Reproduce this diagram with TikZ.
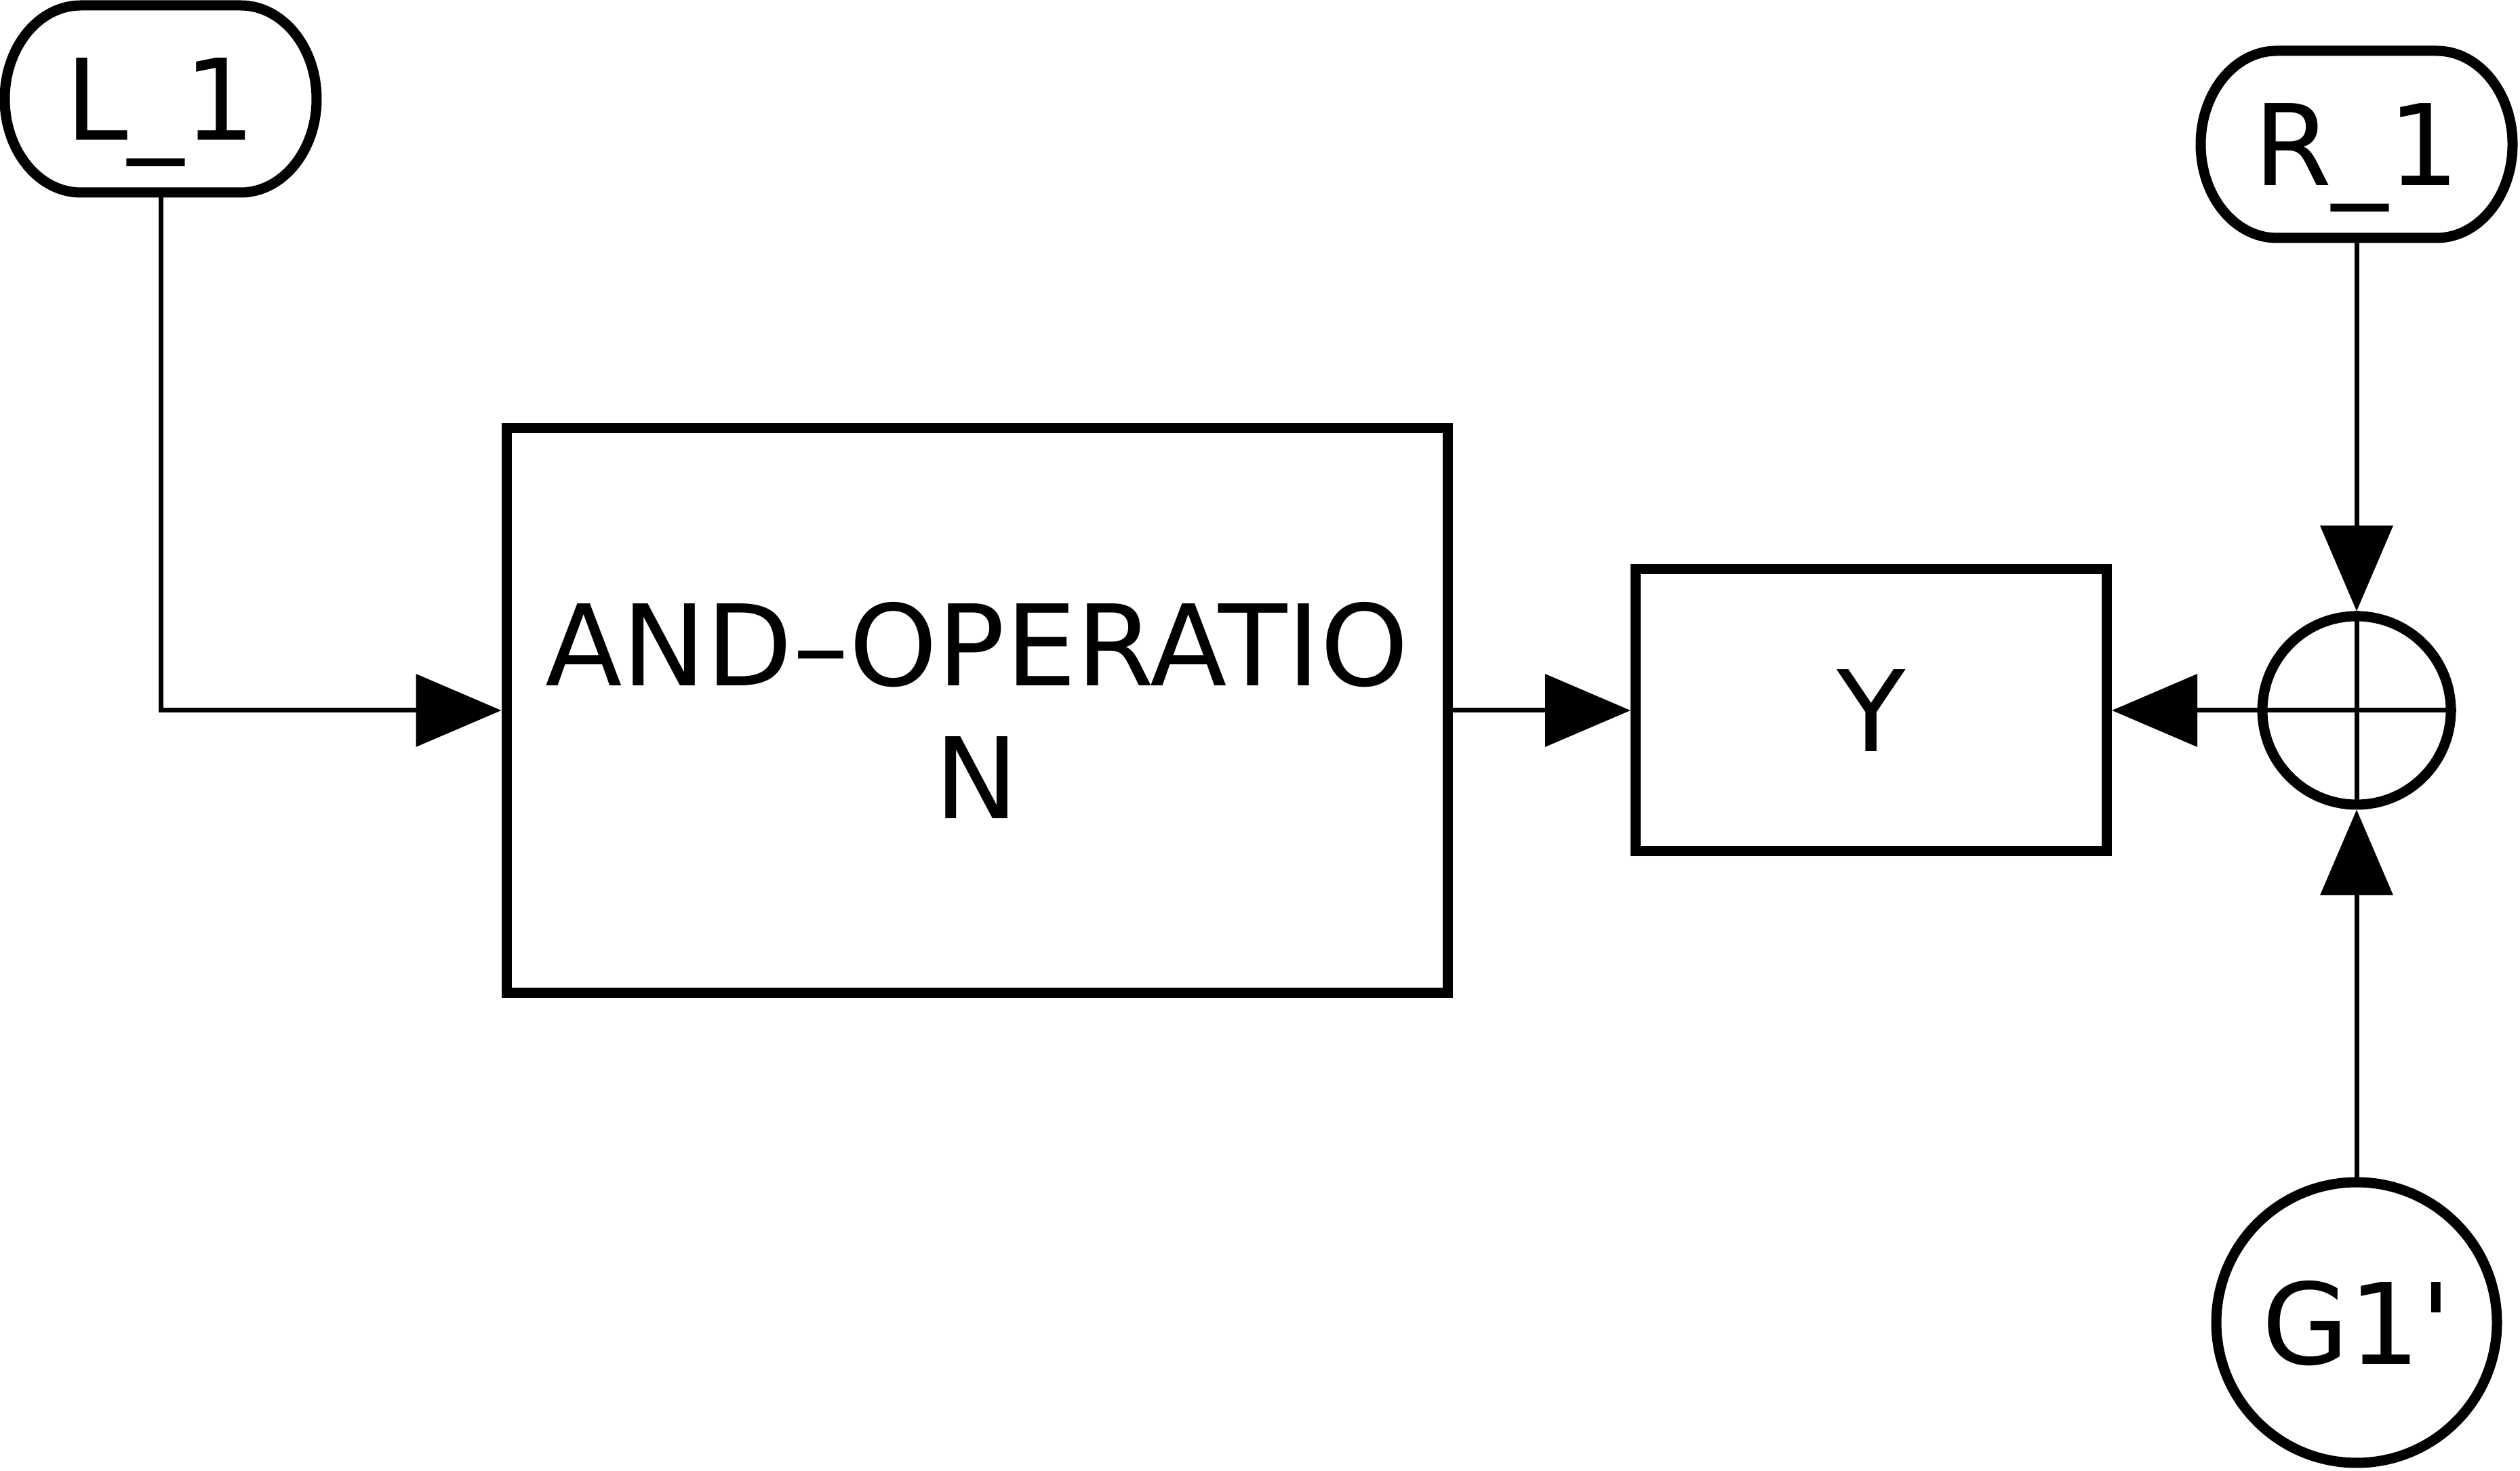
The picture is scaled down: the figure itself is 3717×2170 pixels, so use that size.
\documentclass[tikz,border=0pt]{standalone}
\usepackage{fontspec}
\setmainfont{DejaVu Sans}
\usepackage{tikz}
\usetikzlibrary{arrows.meta}

\begin{document}
\begin{tikzpicture}[x=0.1mm, y=-0.1mm,
        every node/.style={font=\fontsize{47.2pt}{56pt}\selectfont, inner sep=0pt, text depth=0pt},
        block/.style={draw, line width=1.5mm},
        terminal/.style={outer sep=0pt, minimum width=46mm, minimum height=27.6mm},
        wire/.style={line width=0.7mm},
        flow/.style={wire, -{Triangle[length=12.6mm, width=10.6mm]}}]
        \useasboundingbox (0, 0) rectangle (3717, 2170);
        % inputs
        \node[terminal] (L1) at (237, 146) {L\_1};
        \node[terminal] (R1) at (3476, 213) {R\_1};
        \draw[line width=1.5mm, line join=round] ([xshift=11.2mm]L1.north west) -- ([xshift=-11.2mm]L1.north east) arc[start angle=90, end angle=-90, x radius=11.2mm, y radius=13.8mm] -- ([xshift=11.2mm]L1.south west) arc[start angle=270, end angle=90, x radius=11.2mm, y radius=13.8mm] -- cycle;
        \draw[line width=1.5mm, line join=round] ([xshift=11.2mm]R1.north west) -- ([xshift=-11.2mm]R1.north east) arc[start angle=90, end angle=-90, x radius=11.2mm, y radius=13.8mm] -- ([xshift=11.2mm]R1.south west) arc[start angle=270, end angle=90, x radius=11.2mm, y radius=13.8mm] -- cycle;
        \node[block, circle, minimum size=41.4mm] (G1) at (3476, 1951) {G1\textquotesingle};
        % blocks
        \node[block, minimum width=138.8mm, minimum height=83.3mm, align=center] (andop) at (1441, 1048) {AND--OPERATIO\\N};
        \node[block, minimum width=69.5mm, minimum height=41.6mm] (Y) at (2760, 1048) {Y};
        \node[block, circle, minimum size=27.8mm] (sum) at (3476, 1048) {};
        \draw[wire] (sum.north) -- (sum.south);
        \draw[wire] (sum.west) -- (sum.east);
        % connections
        \draw[flow] (L1.south) |- (andop.west);
        \draw[flow] (andop.east) -- (Y.west);
        \draw[flow] (sum.west) -- (Y.east);
        \draw[flow] (R1.south) -- (sum.north);
        \draw[flow] (G1.north) -- (sum.south);
    \end{tikzpicture}
\end{document}
